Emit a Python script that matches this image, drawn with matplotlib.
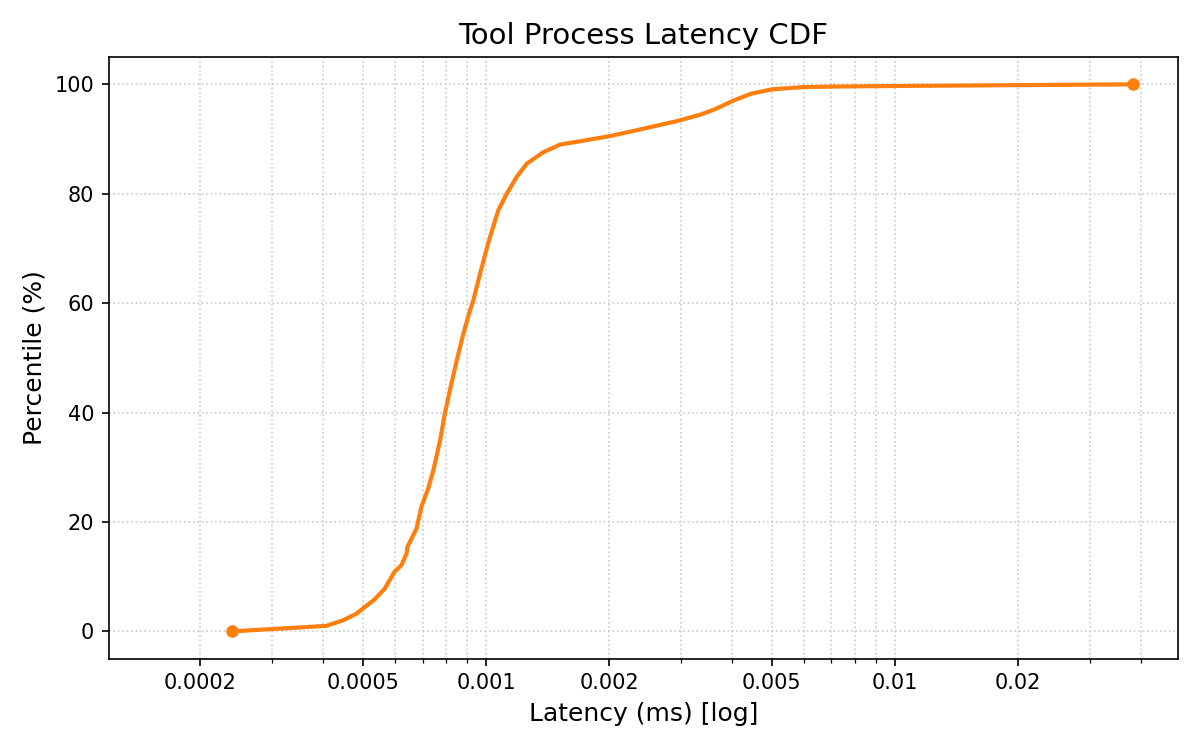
import matplotlib
matplotlib.use("Agg")
import matplotlib.pyplot as plt
from matplotlib.ticker import FixedLocator, FixedFormatter

# latency (ms) and percentile
latency = [0.0002395, 0.000406, 0.000446, 0.000481, 0.000533, 0.000565, 0.000597,
           0.000621, 0.000639, 0.000642, 0.000676, 0.000695, 0.000722, 0.000743,
           0.000772, 0.000793, 0.000816, 0.000848, 0.000880, 0.000914, 0.000931,
           0.000967, 0.001007, 0.001023, 0.001072, 0.001124, 0.001189, 0.001258,
           0.001382, 0.001519, 0.001669, 0.001997, 0.002301, 0.00294, 0.00336,
           0.00362, 0.00405, 0.00446, 0.00502, 0.0060, 0.0071, 0.0100, 0.0383]
percentile = [0.0, 1.0, 2.0, 3.2, 5.8, 7.8, 10.9,
              12.1, 14.2, 15.4, 18.8, 22.8, 26.1, 29.4,
              34.9, 39.8, 44.1, 49.5, 54.4, 58.7, 60.5,
              65.4, 70.3, 72.1, 77.0, 80.0, 83.1, 85.5,
              87.6, 89.0, 89.5, 90.5, 91.5, 93.3, 94.5,
              95.4, 97.1, 98.3, 99.1, 99.5, 99.6, 99.7, 100.0]

tick_vals = [0.0002, 0.0005, 0.001, 0.002, 0.005, 0.01, 0.02]
tick_labels = ["0.0002", "0.0005", "0.001", "0.002", "0.005", "0.01", "0.02"]

fig, ax = plt.subplots(figsize=(8, 5), dpi=150)
fig.subplots_adjust(left=0.0906, right=0.9814, top=0.924, bottom=0.1217)
color = "#ff7f0e"
ax.plot(latency, percentile, color=color, linewidth=2)
ax.plot([latency[0], latency[-1]], [percentile[0], percentile[-1]], "o",
        color=color, markersize=5)

ax.set_xscale("log")
ax.set_xlim(1.193e-4, 4.93e-2)
ax.xaxis.set_major_locator(FixedLocator(tick_vals))
ax.xaxis.set_major_formatter(FixedFormatter(tick_labels))
ax.xaxis.set_minor_formatter(FixedFormatter([]))

ax.grid(True, which="both", linestyle=":", color="#cccccc", linewidth=0.8)
ax.set_title("Tool Process Latency CDF", fontsize=14)
ax.set_xlabel("Latency (ms) [log]", fontsize=12)
ax.set_ylabel("Percentile (%)", fontsize=12)

fig.savefig("out.png")
